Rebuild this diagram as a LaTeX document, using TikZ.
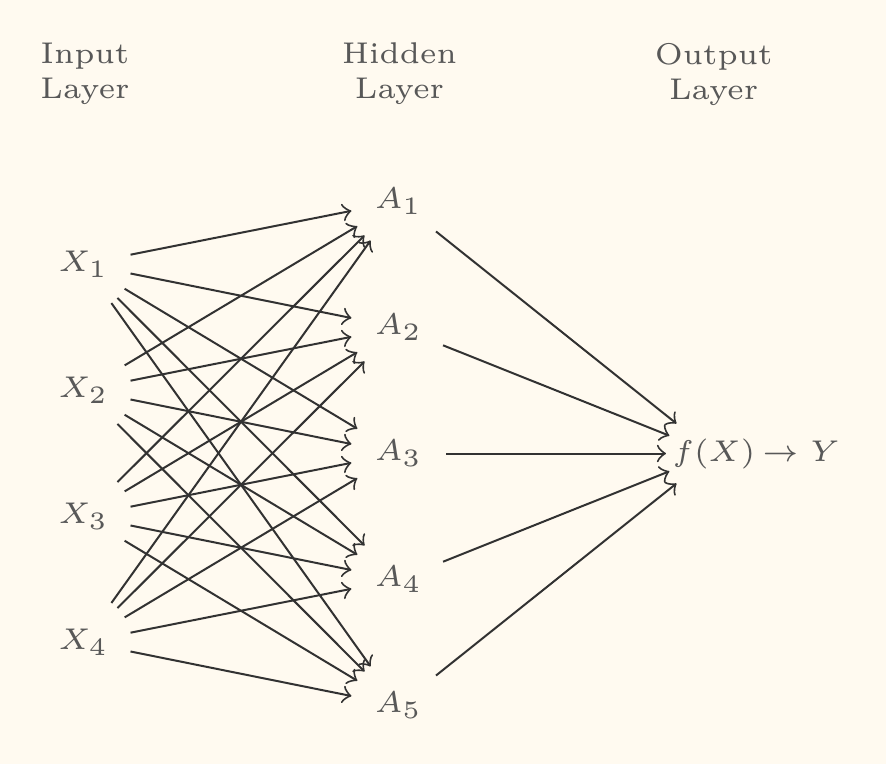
\documentclass[tikz,border=0pt]{standalone}
\definecolor{bgc}{RGB}{255,250,240}
\definecolor{txt}{RGB}{88,88,88}
\definecolor{lnc}{RGB}{50,50,50}
\begin{document}
\begin{tikzpicture}[x=0.2pt,y=-0.2pt,
  lbl/.style={text=txt, font=\fontsize{6}{7}\selectfont},
  neuron/.style={lbl, circle, minimum size=18.8pt, inner sep=0pt},
  head/.style={lbl, align=center, inner sep=0pt},
  conn/.style={->, >=to, draw=lnc, line width=0.4pt}]
\fill[bgc] (0,0) rectangle (886,764);
\useasboundingbox (0,0) rectangle (886,764);
\node[head] (hin) at (85,74) {Input\\Layer};
\node[head] (hhid) at (399.5,74) {Hidden\\Layer};
\node[head] (hout) at (713.7,74) {Output\\Layer};
\foreach \i in {1,...,4} \node[neuron] (X\i) at (83.5,{264+126*(\i-1)}) {$X_{\i}$};
\foreach \j in {1,...,5} \node[neuron] (A\j) at (398.5,{201.5+126*(\j-1)}) {$A_{\j}$};
\node[neuron] (O) at (714,453.5) {$f(X)$};
\coordinate (ax) at (762,0);
\node[lbl, anchor=base west, inner sep=0pt] (Y) at (O.base -| ax) {$\rightarrow Y$};
\foreach \i in {1,...,4} \foreach \j in {1,...,5} \draw[conn] (X\i) -- (A\j);
\foreach \j in {1,...,5} \draw[conn] (A\j) -- (O);
\end{tikzpicture}
\end{document}
